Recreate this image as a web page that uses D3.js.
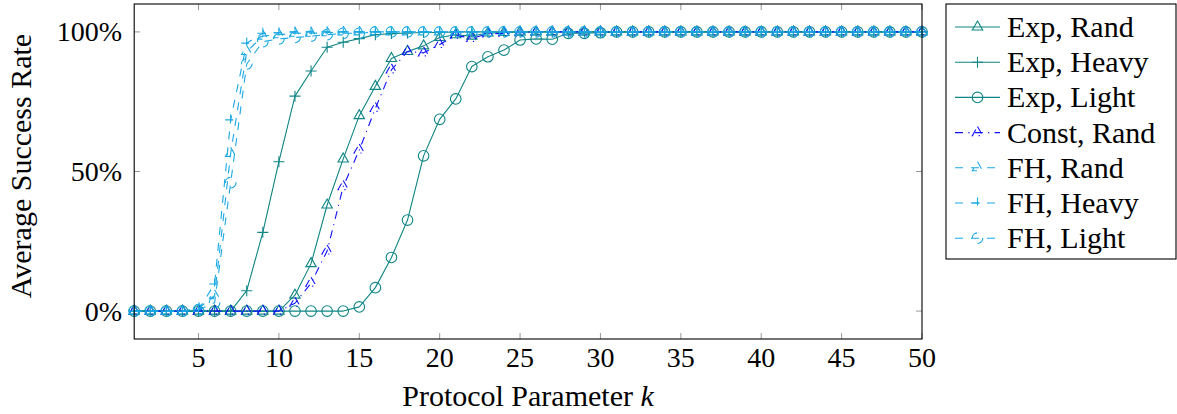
<!DOCTYPE html>
<html><head><meta charset="utf-8">
<script src="https://cdn.jsdelivr.net/npm/d3@7"></script>
<style>body{margin:0;background:#fff}svg{display:block}</style>
</head><body><svg id="c" width="1177" height="414" font-family="'Liberation Serif', 'DejaVu Serif', serif"></svg>
<script>
const ks = [1,2,3,4,5,6,7,8,9,10,11,12,13,14,15,16,17,18,19,20,21,22,23,24,25,26,27,28,29,30,31,32,33,34,35,36,37,38,39,40,41,42,43,44,45,46,47,48,49,50];
const expRand  = [0,0,0,0,0,0,0,0,0,0,5.7,17,38,54.5,70,80.5,90.5,93,95,98,99,98.5,99.6,99.8,100,100,100,100,100,100,100,100,100,100,100,100,100,100,100,100,100,100,100,100,100,100,100,100,100,100];
const expHeavy = [0,0,0,0,0,0,0,7.3,28.2,53.5,77,86,94.5,96.3,97.6,99,99.4,99.6,99.8,99.8,100,100,100,100,100,100,100,100,100,100,100,100,100,100,100,100,100,100,100,100,100,100,100,100,100,100,100,100,100,100];
const expLight = [0,0,0,0,0,0,0,0,0,0,0,0,0,0,1.5,8.4,19.2,32.6,55.6,68.7,76,87.6,91.1,93.5,97.1,97.5,97.4,99.5,99.5,99.7,100,100,100,100,100,100,100,100,100,100,100,100,100,100,100,100,100,100,100,100];
const constRand= [0,0,0,0,0,0,0,0,0,0,2.8,10,21.5,44.6,57.7,72.6,86.4,93,92.5,95.5,98.8,97.7,99.3,99.5,99.7,100,100,100,100,100,100,100,100,100,100,100,100,100,100,100,100,100,100,100,100,100,100,100,100,100];
const fhRand   = [0,0,0,0,1,5.5,56.5,93,98.5,99,99.5,99.5,99.7,100,100,100,100,100,100,100,100,100,100,100,100,100,100,100,100,100,100,100,100,100,100,100,100,100,100,100,100,100,100,100,100,100,100,100,100,100];
const fhHeavy  = [0,0,0,0,0.5,9.7,68.5,96,99.5,99.7,100,100,100,100,100,100,100,100,100,100,100,100,100,100,100,100,100,100,100,100,100,100,100,100,100,100,100,100,100,100,100,100,100,100,100,100,100,100,100,100];
const fhLight  = [0,0,0,0,0.5,3,46,88.5,96.5,97.5,98,98.5,99,99.5,99.5,100,100,100,100,100,100,100,100,100,100,100,100,100,100,100,100,100,100,100,100,100,100,100,100,100,100,100,100,100,100,100,100,100,100,100];
const seriesNames = ["Exp, Rand","Exp, Heavy","Exp, Light","Const, Rand","FH, Rand","FH, Heavy","FH, Light"];
const xTicks = [5,10,15,20,25,30,35,40,45,50];
const yTicks = [0,50,100];
const yTickLabels = ["0%","50%","100%"];

const TEAL = "#0f8585", BLUE = "#1010ff", CYAN = "#18a8e4";
const styles = [
  {data:expRand,  color:TEAL, dash:null, mark:"tri"},
  {data:expHeavy, color:TEAL, dash:null, mark:"plus"},
  {data:expLight, color:TEAL, dash:null, mark:"circ"},
  {data:constRand,color:BLUE, dash:"8,5.3,1.2,5.3", mark:"tri"},
  {data:fhRand,   color:CYAN, dash:"8,8", mark:"tri"},
  {data:fhHeavy,  color:CYAN, dash:"8,8", mark:"plus"},
  {data:fhLight,  color:CYAN, dash:"8,8", mark:"circ"}
];

const svg = d3.select("#c");
const L=134.2, R=922, T=4, B=339;
const x = d3.scaleLinear().domain([1,50]).range([L,R]);
const y = d3.scaleLinear().domain([-10,110]).range([B,T]);

const tg = svg.append("g").attr("stroke","#999").attr("stroke-width",1);
xTicks.forEach(t=>{
  tg.append("line").attr("x1",x(t)).attr("x2",x(t)).attr("y1",B).attr("y2",B-6);
  tg.append("line").attr("x1",x(t)).attr("x2",x(t)).attr("y1",T).attr("y2",T+6);
});
yTicks.forEach(t=>{
  tg.append("line").attr("x1",L).attr("x2",L+6).attr("y1",y(t)).attr("y2",y(t));
  tg.append("line").attr("x1",R).attr("x2",R-6).attr("y1",y(t)).attr("y2",y(t));
});

function drawMark(g, type, cx, cy, color, dash){
  let el;
  if(type==="circ"){
    el = g.append("circle").attr("cx",cx).attr("cy",cy).attr("r",5.3);
  } else if(type==="tri"){
    const r=6;
    el = g.append("path").attr("d",`M${cx},${cy-r}L${cx+r*0.866},${cy+r*0.5}L${cx-r*0.866},${cy+r*0.5}Z`);
  } else {
    const r=5.5;
    el = g.append("path").attr("d",`M${cx-r},${cy}H${cx+r}M${cx},${cy-r}V${cy+r}`);
  }
  el.attr("fill","none").attr("stroke",color).attr("stroke-width",1.1);
  if(dash) el.attr("stroke-dasharray",dash);
}

const line = d3.line().x((d,i)=>x(ks[i])).y(d=>y(d));
styles.forEach(s=>{
  const g = svg.append("g");
  const p = g.append("path").datum(s.data).attr("d",line).attr("fill","none")
    .attr("stroke",s.color).attr("stroke-width",1.1).attr("stroke-linejoin","round");
  if(s.dash) p.attr("stroke-dasharray",s.dash);
  s.data.forEach((v,i)=>drawMark(g,s.mark,x(ks[i]),y(v),s.color,s.dash));
});

svg.append("rect").attr("x",L).attr("y",T).attr("width",R-L).attr("height",B-T)
  .attr("fill","none").attr("stroke","#000").attr("stroke-width",1.1);

xTicks.forEach(t=>svg.append("text").attr("x",x(t)).attr("y",367).attr("text-anchor","middle")
  .attr("font-size",28).text(String(t)));
yTicks.forEach((t,i)=>svg.append("text").attr("x",122).attr("y",y(t)+9.5).attr("text-anchor","end")
  .attr("font-size",28).text(yTickLabels[i]));

const xl = svg.append("text").attr("x",528).attr("y",406).attr("text-anchor","middle").attr("font-size",30);
xl.append("tspan").text("Protocol Parameter ");
xl.append("tspan").attr("font-style","italic").text("k");
svg.append("text").attr("transform","translate(31,166) rotate(-90)").attr("text-anchor","middle")
  .attr("font-size",30).text("Average Success Rate");

const lg = svg.append("g");
lg.append("rect").attr("x",946).attr("y",4).attr("width",230).attr("height",255)
  .attr("fill","#fff").attr("stroke","#000").attr("stroke-width",1.1);
styles.forEach((s,i)=>{
  const cy = 27 + i*35.2;
  const l = lg.append("line").attr("x1",955).attr("x2",1000).attr("y1",cy).attr("y2",cy)
    .attr("stroke",s.color).attr("stroke-width",1.1);
  if(s.dash) l.attr("stroke-dasharray",s.dash);
  drawMark(lg,s.mark,977.5,cy,s.color,s.dash);
  lg.append("text").attr("x",1007).attr("y",cy+10).attr("font-size",30).text(seriesNames[i]);
});
</script></body></html>
